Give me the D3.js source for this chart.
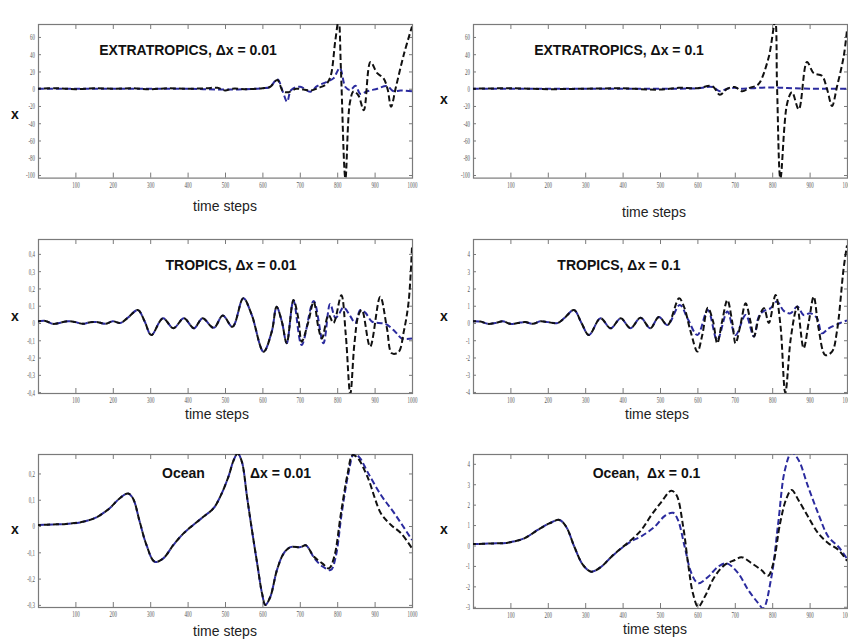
<!DOCTYPE html>
<html><head><meta charset="utf-8">
<script src="https://cdn.jsdelivr.net/npm/d3@7"></script>
<style>body{margin:0;background:#fff}svg{display:block}</style>
</head><body>
<script>
// ---------- data ----------
const xTicks = [100,200,300,400,500,600,700,800,900,1000];
const xTickLabels = ["100","200","300","400","500","600","700","800","900","1000"];

const extTicks = [60,40,20,0,-20,-40,-60,-80,-100];
const extTickLabels = ["60","40","20","0","-20","-40","-60","-80","-100"];
const tropSmallTicks = [0.4,0.3,0.2,0.1,0,-0.1,-0.2,-0.3,-0.4];
const tropSmallLabels = ["0,4","0,3","0,2","0,1","0","-0,1","-0,2","-0,3","-0,4"];
const tropBigTicks = [4,3,2,1,0,-1,-2,-3,-4];
const tropBigLabels = ["4","3","2","1","0","-1","-2","-3","-4"];
const oceanSmallTicks = [0.2,0.1,0,-0.1,-0.2,-0.3];
const oceanSmallLabels = ["0,2","0,1","0","-0,1","-0,2","-0,3"];
const oceanBigTicks = [4,3,2,1,0,-1,-2,-3];
const oceanBigLabels = ["4","3","2","1","0","-1","-2","-3"];

const titles = ["EXTRATROPICS, \u0394x = 0.01","EXTRATROPICS, \u0394x = 0.1","TROPICS, \u0394x = 0.01","TROPICS, \u0394x = 0.1","Ocean","Ocean,  \u0394x = 0.1"];
const subtitle5 = "\u0394x = 0.01";

const ext001Black = [[0,0],[50,0.5],[100,-0.5],[150,0.5],[200,0],[250,0.5],[300,-0.5],[350,0.5],[400,0],[450,0.5],[480,1],[500,-2],[520,0],[560,-0.5],[600,0.5],[620,2],[640,10],[655,-3],[670,-4],[690,0],[710,-1],[730,-2],[750,1],[770,5],[782,14],[795,56],[804,80],[810,22],[822,-104],[834,-16],[844,-3],[857,-8],[871,-25],[889,31],[907,18],[924,12],[935,-1],[944,-21],[957,2],[979,41],[1000,72]];
const ext001Blue = [[0,0],[100,0],[200,0],[300,0],[400,0],[500,-1],[600,0.5],[620,2],[640,11],[655,-4],[666,-15],[677,-1.5],[701,2.4],[728,-3.5],[746,3],[772,8],[790,12],[807,24],[822,2],[835,-1.5],[849,3.5],[862,-6],[880,-3],[907,0],[933,3],[951,-3],[969,-2],[1000,-3]];

const ext01Black = [[0,0],[100,0.5],[200,-0.5],[300,0],[400,0.5],[450,-0.5],[500,-1],[550,1],[600,0.5],[640,3],[660,-7],[680,0],[700,2],[720,-3],[740,1],[760,4],[768,8],[791,37],[808,78],[813,2],[822,-104],[840,-17],[853,-4],[871,-24],[893,31],[911,18],[933,15],[947,-1],[960,-20],[973,2],[991,37],[1000,68]];
const ext01Blue = [[0,0],[100,0],[200,0],[300,0],[400,0],[500,0],[600,0.5],[640,2],[660,-3],[680,0],[700,1],[720,0],[760,1],[800,1.5],[830,1],[860,0.5],[900,0],[950,0],[1000,0]];

const trop001Black = [[0,0.01],[20,0.012],[40,-0.005],[60,0.002],[80,0.01],[100,0.005],[120,-0.005],[140,0.005],[160,0.005],[180,-0.005],[200,0.01],[220,0],[240,0.03],[267,0.075],[285,0.01],[303,-0.07],[334,0.027],[362,-0.03],[390,0.027],[417,-0.03],[440,0.027],[470,-0.028],[494,0.043],[520,-0.022],[549,0.143],[571,0.05],[603,-0.166],[625,-0.05],[638,0.094],[652,0.008],[665,-0.117],[683,0.133],[696,0.027],[705,-0.108],[723,0.008],[737,0.123],[750,-0.03],[759,-0.09],[777,0.046],[790,0.0],[811,0.16],[823,-0.07],[835,-0.41],[846,-0.12],[857,0.046],[866,0.075],[888,-0.137],[915,0.152],[933,-0.03],[946,-0.175],[964,-0.168],[978,-0.05],[991,0.123],[1000,0.44]];
const trop001Blue = [[0,0.01],[20,0.012],[40,-0.005],[60,0.002],[80,0.01],[100,0.005],[120,-0.005],[140,0.005],[160,0.005],[180,-0.005],[200,0.01],[220,0],[240,0.03],[267,0.075],[285,0.01],[303,-0.07],[334,0.027],[362,-0.03],[390,0.027],[417,-0.03],[440,0.027],[470,-0.028],[494,0.043],[520,-0.022],[549,0.143],[571,0.05],[603,-0.166],[625,-0.05],[638,0.094],[652,0.008],[665,-0.117],[683,0.13],[705,-0.127],[737,0.128],[763,-0.117],[781,0.11],[795,0.03],[803,0.046],[817,0.09],[835,0.04],[848,0.0],[862,0.075],[875,0.06],[893,0.008],[911,0.0],[929,-0.005],[955,-0.05],[973,-0.09],[1000,-0.09]];

const trop01Black = [[0,0.1],[20,0.08],[40,-0.05],[60,0.0],[80,0.1],[100,-0.05],[120,0.0],[140,0.05],[160,-0.05],[180,0.1],[200,0.05],[226,0.0],[245,0.3],[270,0.75],[290,0.0],[310,-0.7],[341,0.27],[368,-0.31],[395,0.27],[421,-0.3],[448,0.3],[474,-0.3],[497,0.35],[520,-0.12],[551,1.43],[564,0.95],[582,-0.5],[600,-1.66],[613,-0.7],[628,0.89],[642,0.08],[653,-1.18],[666,0.08],[680,1.33],[693,0.08],[702,-1.18],[715,-0.12],[729,1.14],[742,0.08],[751,-0.79],[764,0.27],[778,0.85],[791,0],[809,1.62],[822,-0.12],[835,-4.05],[849,-1],[862,0.66],[867,0.95],[884,-1.47],[898,0.08],[911,1.53],[924,-0.31],[942,-1.86],[960,-1.66],[973,-0.5],[991,3.17],[1000,4.5]];
const trop01Blue = [[0,0.1],[20,0.08],[40,-0.05],[60,0.0],[80,0.1],[100,-0.05],[120,0.0],[140,0.05],[160,-0.05],[180,0.1],[200,0.05],[226,0.0],[245,0.3],[270,0.75],[290,0.0],[310,-0.7],[341,0.27],[368,-0.31],[395,0.27],[421,-0.3],[448,0.3],[474,-0.3],[497,0.35],[520,-0.12],[553,1.05],[575,0.2],[600,-0.7],[628,0.75],[653,-0.99],[680,0.66],[702,-0.7],[729,0.46],[751,-0.79],[764,0.37],[778,0.7],[795,0.85],[813,1.24],[831,0.7],[849,0.56],[867,0.95],[884,0.46],[902,0.56],[920,0.27],[933,-0.6],[951,-0.31],[982,0],[1000,0.15]];

const ocean001Black = [[0,0.004],[40,0.006],[75,0.008],[120,0.016],[156,0.033],[191,0.067],[218,0.105],[241,0.124],[254,0.105],[272,0.016],[290,-0.072],[312,-0.136],[335,-0.123],[362,-0.072],[389,-0.028],[415,0.004],[442,0.035],[469,0.067],[487,0.111],[509,0.187],[523,0.25],[534,0.276],[545,0.245],[559,0.11],[572,-0.015],[586,-0.142],[599,-0.256],[608,-0.3],[621,-0.27],[639,-0.167],[657,-0.104],[675,-0.08],[702,-0.08],[716,-0.073],[738,-0.117],[760,-0.142],[778,-0.161],[792,-0.117],[810,0.048],[828,0.2],[841,0.27],[854,0.26],[881,0.187],[917,0.048],[944,0.004],[971,-0.028],[1000,-0.085]];
const ocean001Blue = [[0,0.004],[40,0.006],[75,0.008],[120,0.016],[156,0.033],[191,0.067],[218,0.105],[241,0.124],[254,0.105],[272,0.016],[290,-0.072],[312,-0.136],[335,-0.123],[362,-0.072],[389,-0.028],[415,0.004],[442,0.035],[469,0.067],[487,0.111],[509,0.187],[523,0.25],[534,0.276],[545,0.245],[559,0.11],[572,-0.015],[586,-0.142],[599,-0.256],[608,-0.3],[621,-0.27],[639,-0.167],[657,-0.104],[675,-0.08],[702,-0.08],[716,-0.073],[740,-0.125],[762,-0.155],[783,-0.167],[796,-0.117],[812,0.048],[830,0.2],[845,0.275],[860,0.26],[881,0.206],[917,0.118],[953,0.048],[1000,-0.053]];

const ocean01Black = [[0,0.07],[50,0.1],[93,0.14],[137,0.35],[173,0.76],[204,1.08],[231,1.25],[249,0.92],[271,-0.06],[294,-0.95],[316,-1.28],[343,-1.04],[370,-0.55],[396,-0.14],[423,0.27],[450,0.76],[477,1.49],[504,2.14],[530,2.68],[544,2.47],[562,0.92],[575,-0.87],[588,-2.34],[602,-3.0],[620,-2.5],[646,-1.53],[673,-0.95],[700,-0.71],[718,-0.57],[745,-0.87],[771,-1.2],[789,-1.48],[803,-0.87],[821,1.08],[838,2.3],[852,2.72],[870,2.23],[896,1.41],[923,0.6],[950,0.11],[977,-0.22],[1000,-0.75]];
const ocean01Blue = [[0,0.07],[50,0.1],[93,0.14],[137,0.35],[173,0.76],[204,1.08],[231,1.25],[249,0.92],[271,-0.06],[294,-0.95],[316,-1.28],[343,-1.04],[370,-0.55],[396,-0.15],[423,0.2],[450,0.45],[486,0.92],[513,1.45],[535,1.6],[548,1.25],[566,-0.06],[584,-1.36],[602,-1.85],[629,-1.53],[655,-1.04],[678,-0.87],[709,-1.36],[736,-2.18],[763,-2.83],[776,-3.08],[798,-1.53],[816,1.08],[834,3.7],[852,4.55],[870,4.2],[896,2.88],[923,1.57],[950,0.43],[977,-0.06],[1000,-0.65]];

// ---------- layout ----------
const svg = d3.select("body").append("svg").attr("width",848).attr("height",644);

const panels = [
  {x0:38, x1:412, y0:24, y1:177.6, dom:[-103,75], ticks:extTicks, labels:extTickLabels, black:ext001Black, blue:ext001Blue,
   title:titles[0], tx:188, ty:55, xl:225, xly:211, yl:15, yly:119},
  {x0:473, x1:847, y0:24, y1:177.6, dom:[-103,75], ticks:extTicks, labels:extTickLabels, black:ext01Black, blue:ext01Blue,
   title:titles[1], tx:619, ty:55, xl:654, xly:217, yl:444, yly:104},
  {x0:38, x1:412, y0:239, y1:393, dom:[-0.405,0.486], ticks:tropSmallTicks, labels:tropSmallLabels, black:trop001Black, blue:trop001Blue,
   title:titles[2], tx:231, ty:270, xl:217, xly:419, yl:15, yly:321},
  {x0:473, x1:847, y0:239, y1:393, dom:[-4.06,4.87], ticks:tropBigTicks, labels:tropBigLabels, black:trop01Black, blue:trop01Blue,
   title:titles[3], tx:619, ty:270, xl:657, xly:419, yl:444, yly:321},
  {x0:38, x1:412, y0:454, y1:607, dom:[-0.308,0.274], ticks:oceanSmallTicks, labels:oceanSmallLabels, black:ocean001Black, blue:ocean001Blue,
   title:null, xl:225, xly:636, yl:15, yly:534},
  {x0:473, x1:847, y0:454, y1:608, dom:[-3.06,4.48], ticks:oceanBigTicks, labels:oceanBigLabels, black:ocean01Black, blue:ocean01Blue,
   title:titles[5], tx:646.5, ty:478, xl:655, xly:634, yl:444, yly:534}
];

const frameColor = "#7a7a7a";
const tickFont = "'Liberation Serif', 'DejaVu Serif', serif";
const sansFont = "'Liberation Sans', Arial, sans-serif";
const squeeze = 0.55;

panels.forEach((p,i)=>{
  const g = svg.append("g");
  const x = d3.scaleLinear().domain([0,1000]).range([p.x0, p.x1]);
  const y = d3.scaleLinear().domain(p.dom).range([p.y1, p.y0]);
  const clipId = "clip"+i;
  svg.append("clipPath").attr("id",clipId).append("rect")
    .attr("x",p.x0).attr("y",p.y0).attr("width",p.x1-p.x0).attr("height",p.y1-p.y0);

  const styleAxis = sel => {
    sel.select(".domain").remove();
    sel.selectAll(".tick line").attr("stroke",frameColor).attr("stroke-width",1);
    sel.selectAll(".tick text").attr("fill","#555").style("font-family",tickFont).style("font-size","9px");
  };
  g.append("g").attr("transform",`translate(0,${p.y1})`)
    .call(d3.axisBottom(x).tickValues(xTicks).tickFormat((d,k)=>xTickLabels[k]).tickSize(-5).tickPadding(4))
    .call(styleAxis)
    .call(s=>s.selectAll(".tick text").attr("transform",`scale(${squeeze},1)`));
  g.append("g").attr("transform",`translate(0,${p.y0})`)
    .call(d3.axisTop(x).tickValues(xTicks).tickFormat("").tickSize(-5))
    .call(styleAxis);
  g.append("g").attr("transform",`translate(${p.x0},0)`)
    .call(d3.axisLeft(y).tickValues(p.ticks).tickFormat((d,k)=>p.labels[k]).tickSize(-3).tickPadding(3))
    .call(styleAxis)
    .call(s=>s.selectAll(".tick text").attr("x",-3/squeeze).attr("transform",`scale(${squeeze},1)`));
  g.append("g").attr("transform",`translate(${p.x1},0)`)
    .call(d3.axisRight(y).tickValues(p.ticks).tickFormat("").tickSize(-3))
    .call(styleAxis);

  g.append("rect").attr("x",p.x0+0.5).attr("y",p.y0+0.5)
    .attr("width",p.x1-p.x0).attr("height",p.y1-p.y0)
    .attr("fill","none").attr("stroke",frameColor).attr("stroke-width",1.2);

  const line = d3.line().x(d=>x(d[0])).y(d=>y(d[1])).curve(d3.curveCatmullRom.alpha(0.5));
  const lg = g.append("g").attr("clip-path",`url(#${clipId})`);
  lg.append("path").attr("d",line(p.blue)).attr("fill","none")
    .attr("stroke","#2b2b9e").attr("stroke-width",2).attr("stroke-dasharray","6,3");
  lg.append("path").attr("d",line(p.black)).attr("fill","none")
    .attr("stroke","#111").attr("stroke-width",2).attr("stroke-dasharray","6,3").attr("stroke-dashoffset",3);

  if (p.title) {
    g.append("text").attr("x",p.tx).attr("y",p.ty).attr("text-anchor","middle")
      .style("font-family",sansFont).style("font-weight","bold").style("font-size","14px")
      .style("white-space","pre").attr("fill","#111")
      .text(p.title);
  }
  g.append("text").attr("x",p.xl).attr("y",p.xly).attr("text-anchor","middle")
    .style("font-family",sansFont).style("font-size","14px").attr("fill","#222").text("time steps");
  g.append("text").attr("x",p.yl).attr("y",p.yly).attr("text-anchor","middle")
    .style("font-family",sansFont).style("font-weight","bold").style("font-size","14px").attr("fill","#111").text("x");
});

svg.append("text").attr("x",162).attr("y",478)
  .style("font-family",sansFont).style("font-weight","bold").style("font-size","14px").attr("fill","#111").text(titles[4]);
svg.append("text").attr("x",250).attr("y",478)
  .style("font-family",sansFont).style("font-weight","bold").style("font-size","14px").attr("fill","#111").text(subtitle5);
</script>
</body></html>
